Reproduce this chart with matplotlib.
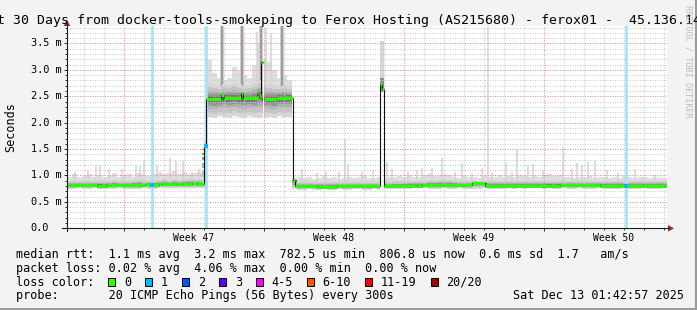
import numpy as np
import matplotlib
matplotlib.use("Agg")
import matplotlib.pyplot as plt
import matplotlib.transforms as mtransforms
from matplotlib.patches import Rectangle, Polygon
from matplotlib.lines import Line2D

W, H = 697, 310
MONO = "DejaVu Sans Mono"

title = "Last 30 Days from docker-tools-smokeping to Ferox Hosting (AS215680) - ferox01 -  45.136.141"

# y axis (milliseconds)
y_ticks = [0.0, 0.5, 1.0, 1.5, 2.0, 2.5, 3.0, 3.5]
y_tick_labels = ["0.0", "0.5 m", "1.0 m", "1.5 m", "2.0 m", "2.5 m", "3.0 m", "3.5 m"]
y_max = 3.84

# x axis (days since start of the 30 day window)
week_labels = ["Week 47", "Week 48", "Week 49", "Week 50"]
week_centers = [6.35, 13.35, 20.35, 27.35]
week_starts = [2.85, 9.85, 16.85, 23.85]

# median rtt as steps: (start day, ms)
med_day = [0.00, 1.50, 2.00, 3.90, 4.20, 4.60, 4.75, 5.50, 5.75, 6.25, 6.50,
           6.85, 6.97, 7.70, 7.85, 8.70, 8.80, 9.60, 9.70, 9.79, 9.85, 10.50,
           11.30, 11.40, 12.50, 13.50, 15.67, 15.77, 15.83, 17.50, 17.75,
           20.25, 20.90, 24.65, 26.65]
med_ms = [0.82, 0.81, 0.82, 0.83, 0.82, 0.83, 0.84, 0.83, 0.84, 0.85, 0.84,
          1.55, 2.45, 2.53, 2.47, 2.56, 2.46, 2.52, 3.15, np.nan, 2.45, 2.47,
          0.91, 0.80, 0.79, 0.80, 2.74, 2.63, 0.80, 0.81, 0.82,
          0.85, 0.81, 0.82, 0.81]

# smoke per 6 hour bin (120 bins): lower edge, upper edge of dense part, top of light part
smoke_lo = [0.75, 0.75, 0.76, 0.75, 0.75, 0.76, 0.75, 0.75,
            0.75, 0.75, 0.76, 0.75, 0.75, 0.75, 0.75, 0.76,
            0.75, 0.75, 0.76, 0.76, 0.76, 0.76, 0.77, 0.76,
            0.77, 0.77, 0.76, 0.77,
            2.10, 2.08, 2.12, 2.10, 2.09, 2.13, 2.10, 2.08, 2.12,
            2.10, 2.09, 2.11, 2.10, 2.08, 2.12, 2.10, 2.11,
            0.74, 0.73, 0.73, 0.74, 0.73, 0.73, 0.74, 0.73,
            0.73, 0.74, 0.73, 0.73, 0.74, 0.74, 0.73, 0.73,
            0.74, 0.73, 0.74, 0.74, 0.74, 0.75, 0.75, 0.75,
            0.76, 0.76, 0.76, 0.75, 0.75, 0.75, 0.76, 0.75,
            0.75, 0.76, 0.75, 0.75, 0.75, 0.75, 0.76, 0.75,
            0.75, 0.75, 0.75, 0.76, 0.75, 0.76, 0.75, 0.76,
            0.76, 0.76, 0.75, 0.76, 0.75, 0.75, 0.76, 0.75,
            0.75, 0.76, 0.75, 0.75, 0.75, 0.76, 0.75, 0.75,
            0.75, 0.75, 0.76, 0.75, 0.75, 0.75, 0.76, 0.75,
            0.75, 0.75, 0.76]
smoke_hi = [0.89, 0.90, 0.89, 0.90, 0.90, 0.89, 0.91, 0.90,
            0.90, 0.91, 0.89, 0.90, 0.90, 0.91, 0.92, 0.90,
            0.90, 0.91, 0.92, 0.93, 0.92, 0.93, 0.92, 0.93,
            0.94, 0.93, 0.93, 0.94,
            2.75, 2.72, 2.70, 2.74, 2.72, 2.76, 2.73, 2.70, 2.72,
            2.75, 2.80, 2.74, 2.73, 2.71, 2.70, 2.72, 2.70,
            0.88, 0.87, 0.87, 0.88, 0.88, 0.87, 0.88, 0.88,
            0.87, 0.88, 0.88, 0.87, 0.88, 0.88, 0.87, 0.88,
            0.88, 0.88, 0.89, 0.88, 0.89, 0.89, 0.89, 0.90,
            0.90, 0.89, 0.90, 0.91, 0.91, 0.92, 0.93, 0.92,
            0.91, 0.90, 0.89, 0.89, 0.90, 0.89, 0.89, 0.90,
            0.89, 0.90, 0.90, 0.89, 0.90, 0.90, 0.90, 0.89,
            0.90, 0.90, 0.90, 0.91, 0.90, 0.91, 0.90, 0.90,
            0.89, 0.90, 0.89, 0.90, 0.89, 0.90, 0.89, 0.89,
            0.90, 0.89, 0.90, 0.90, 0.89, 0.89, 0.90, 0.89,
            0.89, 0.90, 0.89]
smoke_top = [0.98, 1.02, 0.97, 0.99, 1.03, 0.98, 1.01, 0.97,
             0.99, 1.04, 0.98, 1.00, 1.02, 0.97, 1.05, 1.01,
             0.99, 1.03, 1.06, 1.02, 1.05, 1.08, 1.03, 1.06,
             1.02, 1.04, 1.07, 1.10,
             3.19, 2.95, 2.85, 2.80, 2.85, 3.05, 3.00, 2.90, 2.85,
             3.10, 3.50, 3.20, 3.15, 3.00, 2.85, 2.90, 2.80,
             0.96, 0.98, 0.95, 0.97, 0.94, 0.96, 0.99, 0.95,
             0.97, 0.94, 0.96, 0.98, 0.95, 0.97, 0.99, 0.96,
             0.95, 0.97, 0.96, 0.98, 0.97, 0.99, 0.98, 1.00,
             0.98, 0.97, 1.00, 1.02, 0.99, 1.01, 1.03, 1.00,
             0.98, 0.96, 0.99, 0.97, 0.98, 0.96, 0.99, 0.97,
             0.98, 1.00, 0.97, 0.99, 0.98, 1.01, 0.99, 0.97,
             0.99, 0.98, 1.00, 1.02, 0.99, 1.01, 0.98, 0.97,
             0.96, 0.98, 0.97, 0.99, 0.96, 0.98, 0.97, 0.95,
             0.98, 0.96, 0.99, 0.97, 0.96, 0.98, 0.97, 0.95,
             0.97, 0.96, 0.96]

# single slow pings (light smoke spikes)
spike_day = [0.40, 1.05, 1.45, 1.65, 2.10, 2.75, 3.45, 3.65, 3.85, 4.30, 4.50,
             5.15, 5.45, 5.80, 6.25, 6.60, 9.50, 9.95, 10.20,
             11.75, 12.50, 12.95, 13.60, 13.90, 14.05, 14.75, 15.30,
             16.00, 16.25, 17.05, 17.50, 17.75, 18.25, 18.75, 19.40,
             19.75, 20.25, 20.75, 21.05, 21.25, 21.95, 22.25, 22.50,
             23.05, 23.30, 23.80, 24.80, 25.25, 25.50, 25.75, 26.05,
             26.40, 27.00, 27.55, 28.40, 28.80, 29.40]
spike_ms = [1.07, 1.10, 1.20, 1.20, 1.13, 1.13, 1.20, 1.18, 1.27, 1.55, 1.20,
            1.33, 1.27, 1.27, 1.07, 1.13, 3.72, 3.79, 3.70,
            1.13, 1.04, 1.07, 1.07, 1.70, 1.22, 1.07, 1.10,
            1.25, 1.13, 1.07, 1.10, 1.15, 1.15, 1.33, 1.07,
            1.24, 1.04, 1.15, 3.84, 1.04, 1.25, 1.07, 1.50,
            1.20, 1.22, 1.10, 1.54, 1.13, 1.24, 1.20, 1.25,
            1.27, 1.10, 1.04, 1.13, 0.98, 1.00]

# daily bursts during the high period reaching the top of the graph
burst_day = [7.75, 8.75, 9.72, 10.75]

# short events: own smoke range
event_start = [6.85, 15.67]
event_end = [6.97, 15.83]
event_lo = [1.45, 2.58]
event_hi = [1.60, 2.85]
event_top = [1.65, 3.55]
gap_start = [9.79, 15.67]
gap_end = [9.85, 15.83]

# pings with 1/20 loss
loss_day = [4.25, 6.95, 27.95]

# legend
stat_rows = [
    "median rtt:  1.1 ms avg  3.2 ms max  782.5 us min  806.8 us now  0.6 ms sd  1.7   am/s",
    "packet loss: 0.02 % avg  4.06 % max  0.00 % min  0.00 % now",
    "loss color:",
    "probe:       20 ICMP Echo Pings (56 Bytes) every 300s",
]
stamp = "Sat Dec 13 01:42:57 2025"
loss_labels = ["0", "1", "2", "3", "4-5", "6-10", "11-19", "20/20"]
loss_colors = ["#26ff00", "#00b8ff", "#0059ff", "#5e00ff", "#ff00ff", "#ff5500", "#ff0000", "#a10000"]


def fx(px):
    return px / W


def fy(py):
    return 1 - py / H


fig = plt.figure(figsize=(W / 100, H / 100), dpi=100)
fig.patch.set_facecolor("#f3f3f3")
ax = fig.add_axes([fx(67), fy(228.3), 600 / W, (228.3 - 25.5) / H])
ax.set_facecolor("white")
ax.set_xlim(0, 30)
ax.set_ylim(0, y_max)
for s in ax.spines.values():
    s.set_visible(False)

# median per bin for the smoke centre
edges = np.arange(121) * 0.25
centers = edges[:-1] + 0.125
idx = np.searchsorted(med_day, centers, side="right") - 1
med_bin = np.array(med_ms)[idx]
med_bin = np.where(np.isnan(med_bin), 2.45, med_bin)
lo = np.array(smoke_lo)
hi = np.array(smoke_hi)
top = np.array(smoke_top)

xs = np.repeat(edges, 2)[1:-1]


def rep(v):
    return np.repeat(v, 2)


# light top of smoke
ax.fill_between(xs, rep(lo), rep(top), color="#dedede", lw=0, zorder=1)
ax.vlines(spike_day, med_bin[np.clip((np.array(spike_day) / 0.25).astype(int), 0, 119)],
          spike_ms, color="#d4d4d4", lw=1.1, zorder=1.1)
ax.vlines(burst_day, 2.6, y_max, color="#c8c8c8", lw=2.6, zorder=1.2)
ax.vlines(burst_day, 2.6, y_max, color="#8e8e8e", lw=1.1, zorder=1.3)

# dense smoke, darker towards the median
fracs = [1.0, 0.75, 0.52, 0.34, 0.2, 0.09]
shades = ["#d6d6d6", "#c4c4c4", "#afafaf", "#969696", "#7a7a7a", "#5c5c5c"]
for f, c in zip(fracs, shades):
    ax.fill_between(xs, rep(med_bin - (med_bin - lo) * f), rep(med_bin + (hi - med_bin) * f),
                    color=c, lw=0, zorder=1.5)

for a, b in zip(gap_start, gap_end):
    ax.axvspan(a, b, color="white", lw=0, zorder=2)
for a, b, l, h, t in zip(event_start, event_end, event_lo, event_hi, event_top):
    ax.fill_between([a, b], l, t, color="#d6d6d6", lw=0, zorder=2.1)
    ax.fill_between([a, b], l, h, color="#8c8c8c", lw=0, zorder=2.2)

# grid
dash = (0, (1.0, 1.4))
for v in np.arange(0.1, y_max, 0.1):
    major = abs(v / 0.5 - round(v / 0.5)) < 1e-6
    ax.axhline(v, color="#f08c8c" if major else "#cccccc", lw=0.75, ls=dash, zorder=3)
for d in np.arange(0.85, 30, 1.0):
    major = any(abs(d - w) < 1e-6 for w in week_starts)
    ax.axvline(d, color="#f08c8c" if major else "#cccccc", lw=0.75, ls=dash, zorder=3)

# loss markers
for d in loss_day:
    ax.axvline(d, color="#a4e2f7", lw=1.9, zorder=3.5)

# median line
md = med_day + [30.0]
mv = med_ms + [med_ms[-1]]
ax.plot(md, mv, drawstyle="steps-post", color="#101010", lw=0.8, zorder=4)
ax.hlines(med_ms, med_day, md[1:], color="#22ff00", lw=2.2, zorder=4.5)
for d in loss_day:
    i = np.searchsorted(med_day, d, side="right") - 1
    ax.plot([d], [med_ms[i]], marker="s", ms=2.2, color="#00b8ff", mew=0, zorder=5)

# ticks
ax.set_yticks(np.arange(0, y_max, 0.1), minor=True)
ax.set_yticks(y_ticks)
ax.set_yticklabels([])
ax.set_xticks(np.arange(0.85, 30, 1.0), minor=True)
ax.set_xticks(week_starts)
ax.set_xticklabels([])
ax.tick_params(axis="both", which="major", length=2.5, width=0.7, color="#303030", direction="out")
ax.tick_params(axis="both", which="minor", length=1.6, width=0.7, color="#303030", direction="out")

ty = mtransforms.blended_transform_factory(fig.transFigure, ax.transData)
for v, s in zip(y_ticks, y_tick_labels):
    ax.text(fx(30.7), v, s, transform=ty, ha="left", va="center", family=MONO,
            fontsize=7.35, color="black")
tx = mtransforms.blended_transform_factory(ax.transData, fig.transFigure)
for d, s in zip(week_centers, week_labels):
    ax.text(d, fy(241), s, transform=tx, ha="center", va="baseline", family=MONO,
            fontsize=7.05, color="black")

# axes with arrows
fig.add_artist(Line2D([fx(62), fx(669)], [fy(228.3), fy(228.3)], color="#1a1a1a", lw=0.8))
fig.add_artist(Line2D([fx(67), fx(67)], [fy(231), fy(24)], color="#1a1a1a", lw=0.8))
fig.add_artist(Polygon([(fx(668), fy(225)), (fx(674), fy(228.3)), (fx(668), fy(231.6))],
                       closed=True, color="#9b2c2c", lw=0))
fig.add_artist(Polygon([(fx(63.7), fy(26)), (fx(67), fy(20)), (fx(70.3), fy(26))],
                       closed=True, color="#9b2c2c", lw=0))

# texts
fig.text(fx(-27.3), fy(24), title, ha="left", va="baseline", family=MONO, fontsize=9.57)
fig.text(fx(11), fy(127), "Seconds", rotation=90, ha="center", va="center", family=MONO,
         fontsize=8.49)
fig.text(fx(688), fy(5), "RRDTOOL / TOBI OETIKER", rotation=270, ha="center", va="top",
         family=MONO, fontsize=6.1, color="#bcbcbc")

adv = 7.1
baselines = [258.2, 271.9, 285.6, 299.3]
for s, b in zip(stat_rows, baselines):
    fig.text(fx(16), fy(b), s, ha="left", va="baseline", family=MONO, fontsize=8.49)
fig.text(fx(16 + 70 * adv), fy(baselines[3]), stamp, ha="left", va="baseline",
         family=MONO, fontsize=8.49)

col = 13.0
for lab, c in zip(loss_labels, loss_colors):
    x0 = 16 + col * adv
    fig.add_artist(Rectangle((fx(x0), fy(286)), 7 / W, 8 / H, facecolor=c,
                             edgecolor="black", lw=0.7))
    fig.text(fx(16 + (col + 2.2) * adv), fy(baselines[2]), lab, ha="left", va="baseline",
             family=MONO, fontsize=8.49)
    col = col + 2.2 + len(lab) + 2

# 3d border
fig.add_artist(Line2D([0, 1], [fy(309), fy(309)], color="#9c9c9c", lw=1.5))
fig.add_artist(Line2D([fx(696), fx(696)], [0, 1], color="#9c9c9c", lw=1.5))

fig.savefig("out.png", dpi=100, facecolor=fig.get_facecolor())
